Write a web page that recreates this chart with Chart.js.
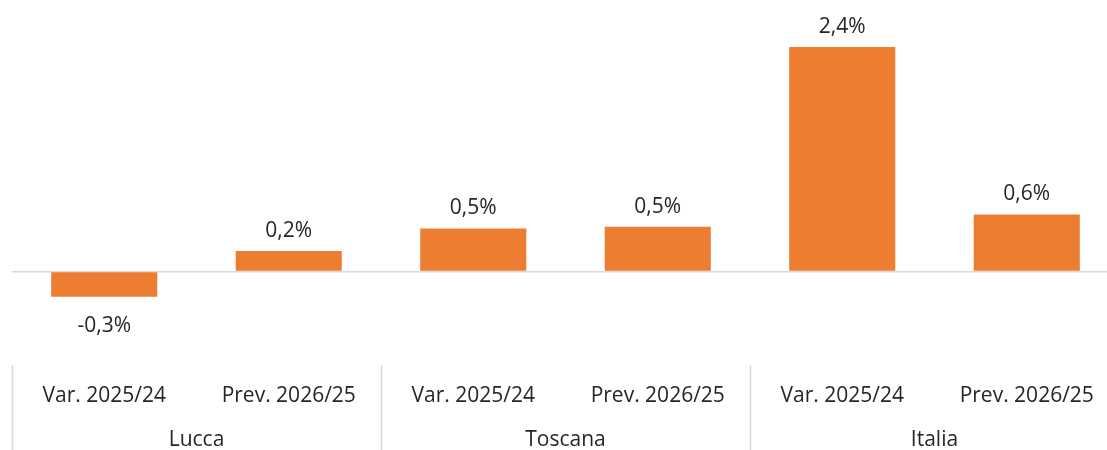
<!DOCTYPE html>
<html>
<head>
<meta charset="utf-8">
<script src="https://cdn.jsdelivr.net/npm/chart.js@4.4.1/dist/chart.umd.min.js"></script>
<style>
  html, body { margin: 0; padding: 0; background: #ffffff; overflow: hidden; }
  #wrap { width: 1107px; height: 450px; overflow: hidden; position: relative; }
  canvas { position: absolute; left: 0; top: 0; }
</style>
</head>
<body>
<div id="wrap"><canvas id="c" width="1131" height="450"></canvas></div>
<script>
// ---- data ----
const groups = ['Lucca', 'Toscana', 'Italia'];
const subLabels = ['Var. 2025/24', 'Prev. 2026/25'];
const categories = ['Var. 2025/24', 'Prev. 2026/25', 'Var. 2025/24', 'Prev. 2026/25', 'Var. 2025/24', 'Prev. 2026/25'];
const values = [-0.27, 0.22, 0.46, 0.48, 2.40, 0.61];

const FONT = '"Open Sans", "DejaVu Sans", sans-serif';
const TEXT = '#262626';
const GRID = '#d9d9d9';

const fmt = v => v.toFixed(1).replace('.', ',') + '%';

const overlay = {
  id: 'overlay',
  afterDatasetsDraw(chart) {
    const ctx = chart.ctx;
    const x = chart.scales.x;
    const meta = chart.getDatasetMeta(0);
    ctx.save();
    // data labels
    ctx.font = '21px ' + FONT;
    ctx.fillStyle = TEXT;
    ctx.textAlign = 'center';
    ctx.textBaseline = 'middle';
    meta.data.forEach((bar, i) => {
      const v = values[i];
      const y = v >= 0 ? bar.y - 20 : bar.y + 29;
      ctx.fillText(fmt(v), bar.x, y);
    });
    // group dividers
    ctx.strokeStyle = GRID;
    ctx.lineWidth = 1.5;
    const per = subLabels.length;
    const xs = [x.left];
    for (let g = 1; g < groups.length; g++) {
      const a = x.getPixelForValue(g * per - 1);
      const b = x.getPixelForValue(g * per);
      xs.push((a + b) / 2);
    }
    xs.push(x.right);
    const top = chart.chartArea.bottom;
    xs.forEach(px => {
      ctx.beginPath();
      ctx.moveTo(Math.round(px) + 0.5, top);
      ctx.lineTo(Math.round(px) + 0.5, chart.height);
      ctx.stroke();
    });
    ctx.restore();
  }
};

new Chart(document.getElementById('c'), {
  type: 'bar',
  data: {
    labels: categories,
    datasets: [{
      data: values,
      backgroundColor: '#ED7D31',
      borderWidth: 0,
      categoryPercentage: 1.0,
      barPercentage: 0.575
    }]
  },
  options: {
    responsive: false,
    animation: false,
    events: [],
    layout: { padding: { left: 12, right: 12, top: 0, bottom: 0 } },
    plugins: { legend: { display: false }, tooltip: { enabled: false } },
    scales: {
      y: {
        min: -1.0,
        max: 2.904,
        ticks: { display: false, stepSize: 0.5 },
        border: { display: false },
        grid: {
          drawTicks: false,
          lineWidth: 1.5,
          color: c => (c.tick && c.tick.value === 0 ? GRID : 'rgba(0,0,0,0)')
        }
      },
      x: {
        position: 'bottom',
        offset: true,
        grid: { display: false, drawTicks: false },
        border: { display: false },
        afterFit: s => { s.height = 40; },
        ticks: {
          color: TEXT,
          font: { family: FONT, size: 21 },
          padding: 18,
          maxRotation: 0,
          autoSkip: false
        }
      },
      x2: {
        type: 'category',
        labels: groups,
        position: 'bottom',
        offset: true,
        grid: { display: false, drawTicks: false },
        border: { display: false },
        afterFit: s => { s.height = 45; },
        ticks: {
          color: TEXT,
          font: { family: FONT, size: 21 },
          padding: 22,
          maxRotation: 0,
          autoSkip: false
        }
      }
    }
  },
  plugins: [overlay]
});
</script>
</body>
</html>
